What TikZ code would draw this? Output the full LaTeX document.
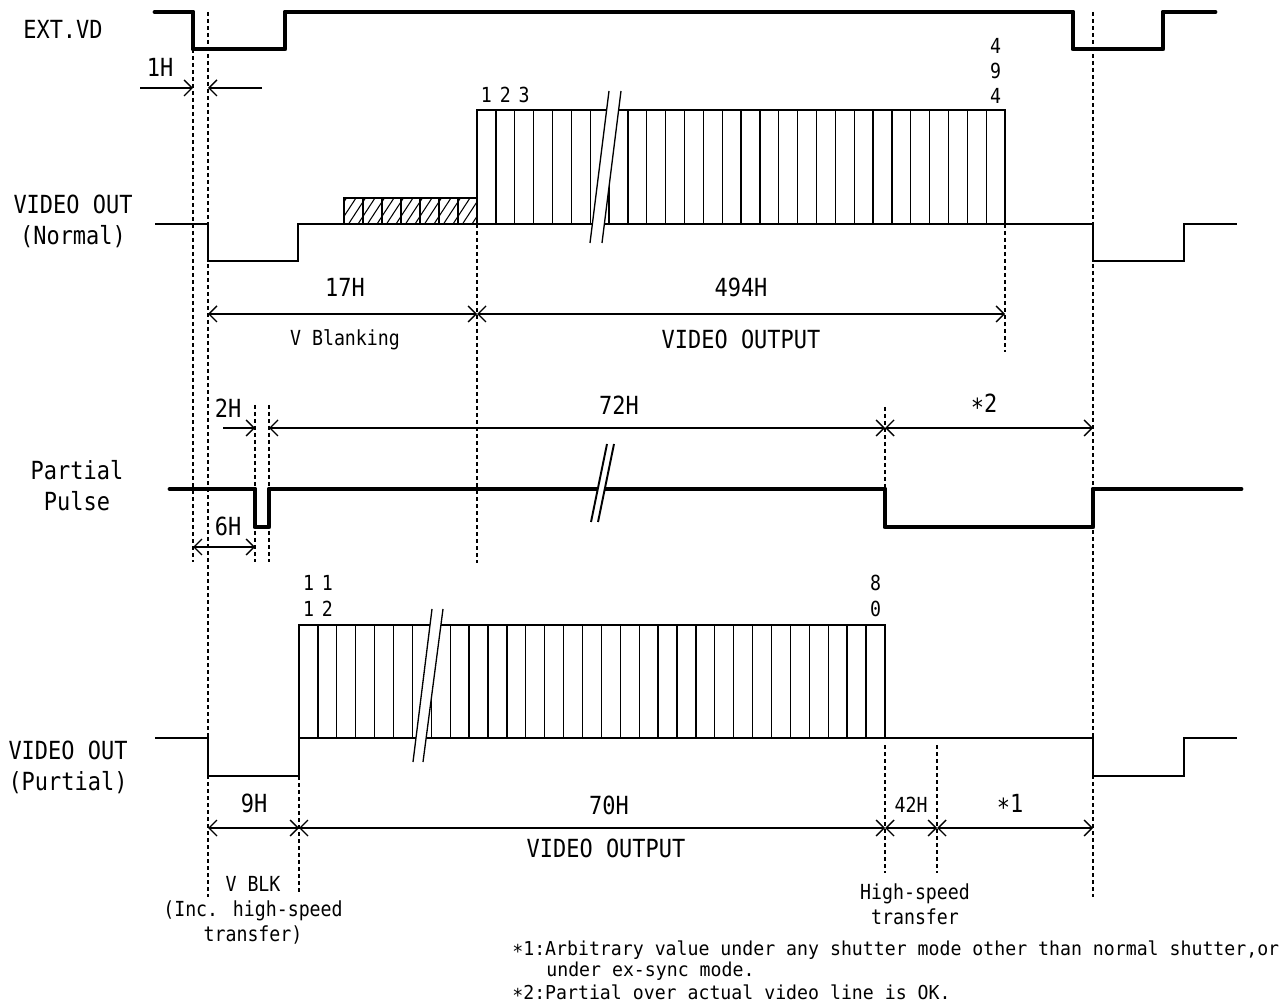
\documentclass[tikz,border=0pt]{standalone}
\usepackage{fontspec}
\newfontfamily\gothic[FakeStretch=0.88]{DejaVu Sans Mono}
\newfontfamily\gothicw[FakeStretch=0.95]{DejaVu Sans Mono}
\usetikzlibrary{arrows.meta}
\newcommand\midstar{\raisebox{-0.3ex}{*}}

\begin{document}
\begin{tikzpicture}[x=0.2mm,y=-0.2mm,
  >={Straight Barb[length=1.6mm,width=3.2mm]},
  sig/.style={line width=2.8pt,line cap=round,line join=round},
  wave/.style={line width=1pt},
  cell/.style={line width=0.75pt},
  guide/.style={line width=0.6pt,dash pattern=on 0.8mm off 0.6mm},
  dimline/.style={line width=0.8pt},
  lbig/.style={font=\gothic\fontsize{14.2}{17.6}\selectfont,inner sep=0pt,align=center},
  lsmall/.style={font=\gothic\fontsize{11.8}{14.3}\selectfont,inner sep=0pt,align=center},
  noteline/.style={font=\gothicw\fontsize{10.9}{13}\selectfont,inner sep=0pt,anchor=base west,text height=7.5pt,text depth=1.5pt}]
  \useasboundingbox (0,0) rectangle (1279,1005);

  % signal names
  \node[lbig] (extvd) at (63,29) {EXT.VD};
  \node[lbig] (vonorm) at (73,221) {VIDEO OUT\\(Normal)};
  \node[lbig] (ppulse) at (77,486) {Partial\\Pulse};
  \node[lbig] (vopart) at (68,767) {VIDEO OUT\\(Purtial)};

  % EXT.VD
  \draw[sig] (155,12) -| (193,49) -| (285,12) -| (1073,49) -| (1163,12) -- (1215,12);

  % VIDEO OUT (Normal)
  \draw[wave] (155,224) -| (208,261) -| (298,224) -- (1093,224) -- (1093,261) -| (1184,224) -- (1237,224);
  \begin{scope}
    \clip (344,198) rectangle (477,224);
    \foreach \x in {320,329.5,...,480}
      \draw[line width=0.6pt] (\x,224) -- +(17,-26);
  \end{scope}
  \foreach \i in {0,...,6}
    \draw[cell] (344+19*\i,198) rectangle +(19,26);
  \foreach \i in {0,...,27}
    \draw[cell] ({477+18.86*\i},110) rectangle +(18.86,114);
  \fill[white] (609,91) -- (590,243) -- (602,243) -- (621,91) -- cycle;
  \draw[cell] (609,91) -- (590,243) (621,91) -- (602,243);
  \node[lsmall] (ln1) at (486.4,95) {1};
  \node[lsmall] (ln2) at (505.3,95) {2};
  \node[lsmall] (ln3) at (524.2,95) {3};
  \node[lsmall] (ln494) at (995.6,71) {4\\9\\4};

  % Partial Pulse
  \draw[sig] (170,489) -| (255,527) -| (269,489) -| (885,527) -| (1093,489) -- (1241,489);
  \fill[white] (607,444) -- (591,522) -- (598,522) -- (614,444) -- cycle;
  \draw[line width=1.1pt] (607,444) -- (591,522) (614,444) -- (598,522);

  % VIDEO OUT (Purtial)
  \draw[wave] (155,738) -| (208,776) -| (299,738) -- (1093,738) -- (1093,776) -| (1184,738) -- (1237,738);
  \foreach \i in {0,...,30}
    \draw[cell] ({299+18.9*\i},625) rectangle +(18.9,113);
  \fill[white] (432,609) -- (413,762) -- (423,762) -- (443,609) -- cycle;
  \draw[cell] (432,609) -- (413,762) (443,609) -- (423,762);
  \node[lsmall] (ln11) at (308.5,596) {1\\1};
  \node[lsmall] (ln12) at (327.4,596) {1\\2};
  \node[lsmall] (ln80) at (875.5,596) {8\\0};

  % guides
  \draw[guide] (193,49) -- (193,562);
  \draw[guide] (208,12) -- (208,897);
  \draw[guide] (255,405) -- (255,562);
  \draw[guide] (269,405) -- (269,562);
  \draw[guide] (477,224) -- (477,563);
  \draw[guide] (1005,224) -- (1005,352);
  \draw[guide] (1093,12) -- (1093,897);
  \draw[guide] (885,407) -- (885,489);
  \draw[guide] (885,745) -- (885,873);
  \draw[guide] (937,745) -- (937,873);
  \draw[guide] (299,776) -- (299,895);

  % dimensions
  \draw[dimline,->] (140,88) -- (193,88);
  \draw[dimline,->] (262,88) -- (208,88);
  \node[lbig] (h1) at (160,67) {1H};

  \draw[dimline,<->] (208,314) -- (477,314);
  \draw[dimline,<->] (477,314) -- (1005,314);
  \node[lbig] (h17) at (345,287) {17H};
  \node[lsmall] (vblank) at (345,340) {V Blanking};
  \node[lbig] (h494) at (741,287) {494H};
  \node[lbig] (vout1) at (741,339) {VIDEO OUTPUT};

  \draw[dimline,->] (223,428) -- (255,428);
  \draw[dimline,<->] (269,428) -- (885,428);
  \draw[dimline,<->] (885,428) -- (1093,428);
  \node[lbig] (h2) at (228,408) {2H};
  \node[lbig] (h72) at (619,405) {72H};
  \node[lbig] (st2) at (984,405) {\midstar2};

  \draw[dimline,<->] (193,547) -- (255,547);
  \node[lbig] (h6) at (228,526) {6H};

  \draw[dimline,<->] (208,828) -- (299,828);
  \draw[dimline,<->] (299,828) -- (885,828);
  \draw[dimline,<->] (885,828) -- (937,828);
  \draw[dimline,<->] (937,828) -- (1093,828);
  \node[lbig] (h9) at (254,803) {9H};
  \node[lbig] (h70) at (609,805) {70H};
  \node[lsmall] (h42) at (911,805) {42H};
  \node[lbig] (st1) at (1010,805) {\midstar1};
  \node[lbig] (vout2) at (606,848) {VIDEO OUTPUT};
  \node[lsmall] (vblk) at (253,910) {V BLK\\(Inc. high-speed\\transfer)};
  \node[lsmall] (hst) at (915,904) {High-speed\\transfer};

  % notes
  \node[noteline] (note1) at (512,955) {\midstar1:Arbitrary value under any shutter mode other than normal shutter,or};
  \node[noteline] (note1b) at (546,976) {under ex-sync mode.};
  \node[noteline] (note2) at (512,999) {\midstar2:Partial over actual video line is OK.};
\end{tikzpicture}
\end{document}
